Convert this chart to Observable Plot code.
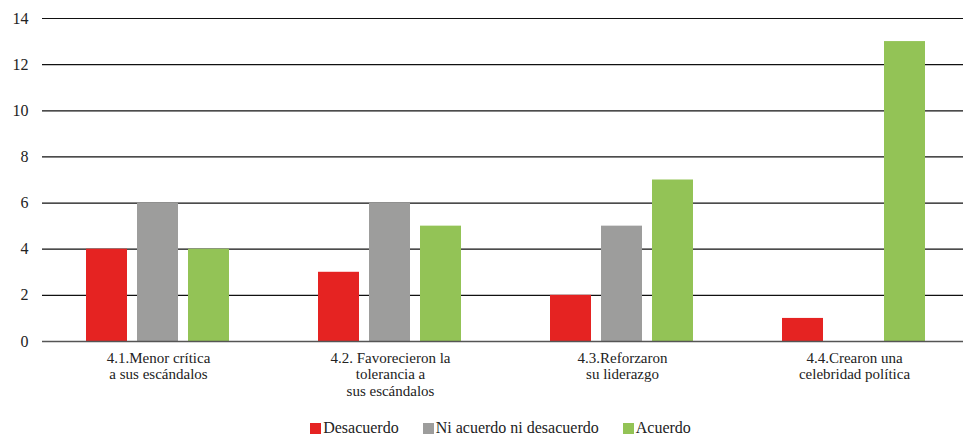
<!DOCTYPE html>
<html>
<head>
<meta charset="utf-8">
<script src="https://cdn.jsdelivr.net/npm/d3@7"></script>
<script src="https://cdn.jsdelivr.net/npm/@observablehq/plot@0.6"></script>
</head>
<body style="margin:0;padding:0;background:#fff;font-family:'Liberation Serif', serif !important">
<div id="chart" style="width:963px;font-family:'Liberation Serif', serif !important"></div>
<script>
const categories = [
  "4.1.Menor crítica\na sus escándalos",
  "4.2. Favorecieron la\ntolerancia a\nsus escándalos",
  "4.3.Reforzaron\nsu liderazgo",
  "4.4.Crearon una\ncelebridad política"
];
const seriesNames = ["Desacuerdo", "Ni acuerdo ni desacuerdo", "Acuerdo"];
const desacuerdo = [4, 3, 2, 1];
const niAcuerdo = [6, 6, 5, 0];
const acuerdo = [4, 5, 7, 13];
const yTicks = [0, 2, 4, 6, 8, 10, 12, 14];
const colors = ["#E52322", "#9D9D9C", "#93C356"];

const seriesValues = [desacuerdo, niAcuerdo, acuerdo];
const data = [];
categories.forEach((c, i) => {
  seriesNames.forEach((s, j) => data.push({cat: c, series: s, value: seriesValues[j][i]}));
});

const font = "'Liberation Serif', serif";

const plot = Plot.plot({
  width: 963,
  height: 418,
  marginLeft: 40,
  marginRight: 3,
  marginTop: 18,
  marginBottom: 77,
  style: {fontSize: "15px", color: "#222", background: "#fff", fontFamily: font},
  fx: {domain: categories, padding: 0, label: null, axis: null, range: [40, 971]},
  x: {domain: seriesNames, paddingInner: 0.19, paddingOuter: 0.84, axis: null},
  y: {domain: [0, 14], ticks: yTicks, label: null},
  color: {domain: seriesNames, range: colors},
  marks: [
    Plot.ruleY(yTicks.filter(d => d > 0), {stroke: "#111", strokeWidth: 1.2}),
    Plot.barY(data, {fx: "cat", x: "series", y: "value", fill: "series"}),
    Plot.ruleY([0], {stroke: "#555", strokeWidth: 1.6}),
    Plot.axisY({ticks: yTicks, tickSize: 0, tickPadding: 14, fontSize: 16, fontFamily: font, label: null}),
    Plot.axisFx({anchor: "bottom", tickSize: 0, tickPadding: 9, fontSize: 15, fontFamily: font, lineHeight: 1.13, label: null, lineAnchor: "top"})
  ]
});
document.getElementById("chart").appendChild(plot);

const legend = document.createElement("div");
legend.setAttribute("style", "display:flex;justify-content:center;align-items:center;padding-left:38px;height:20px;font-size:16px;color:#222");
seriesNames.forEach((s, i) => {
  const it = document.createElement("span");
  it.setAttribute("style", "display:flex;align-items:center;margin:0 12px");
  const sw = document.createElement("span");
  sw.setAttribute("style", "width:11px;height:11px;margin-right:2px;display:inline-block;background:" + colors[i]);
  it.appendChild(sw);
  it.appendChild(document.createTextNode(s));
  legend.appendChild(it);
});
document.getElementById("chart").appendChild(legend);

document.querySelectorAll("#chart, #chart *").forEach(el => {
  el.style.setProperty("font-family", font, "important");
});
</script>
</body>
</html>
